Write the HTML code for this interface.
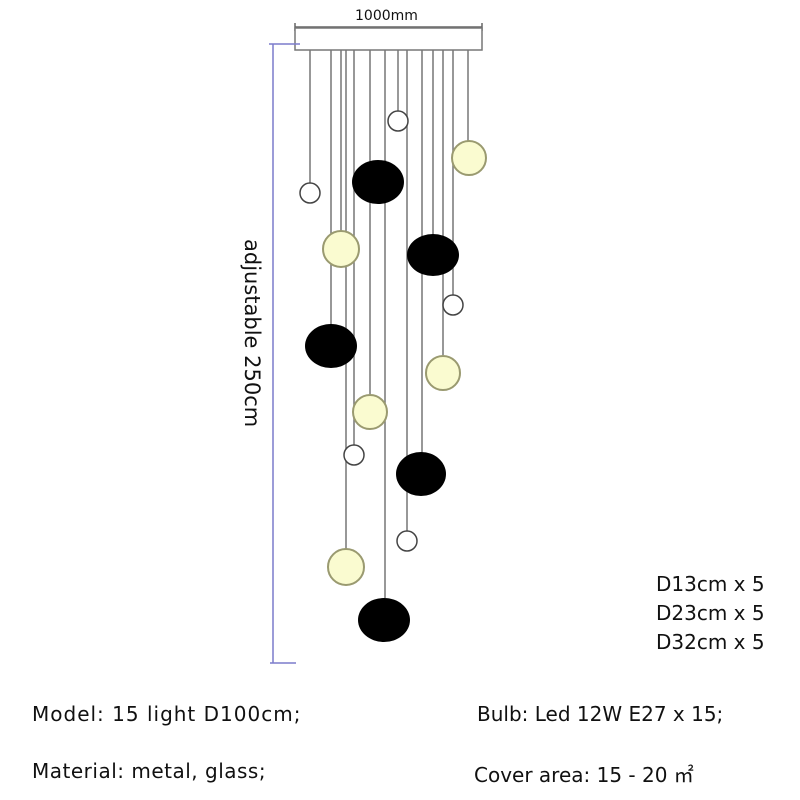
<!DOCTYPE html>
<html><head><style>
body{margin:0;width:800px;height:800px;background:#fff;position:relative;font-family:"DejaVu Sans","Liberation Sans",sans-serif;overflow:hidden}
.t{position:absolute;font-size:20px;color:#111;white-space:nowrap}
</style></head><body>
<svg width="800" height="800" style="position:absolute;left:0;top:0">
<g stroke="#666" stroke-width="1.5">
<line x1="295" y1="27" x2="482" y2="27"/>
<line x1="295" y1="23" x2="295" y2="31"/><line x1="482" y1="23" x2="482" y2="31"/>
</g>
<rect x="295" y="28" width="187" height="22" fill="#fff" stroke="#777" stroke-width="1.5"/>
<g stroke="#7c7ccc" stroke-width="1.5">
<line x1="273" y1="44" x2="273" y2="663"/>
<line x1="269" y1="44" x2="300" y2="44"/>
<line x1="270" y1="663" x2="296" y2="663"/>
</g>
<g stroke="#777" stroke-width="1.5">
<line x1="310" y1="50" x2="310" y2="183"/>
<line x1="331" y1="50" x2="331" y2="326"/>
<line x1="341" y1="50" x2="341" y2="231"/>
<line x1="346" y1="50" x2="346" y2="549"/>
<line x1="354" y1="50" x2="354" y2="445"/>
<line x1="370" y1="50" x2="370" y2="394"/>
<line x1="385" y1="50" x2="385" y2="598"/>
<line x1="398" y1="50" x2="398" y2="111"/>
<line x1="407" y1="50" x2="407" y2="531"/>
<line x1="422" y1="50" x2="422" y2="454"/>
<line x1="433" y1="50" x2="433" y2="235"/>
<line x1="443" y1="50" x2="443" y2="355"/>
<line x1="453" y1="50" x2="453" y2="295"/>
<line x1="468" y1="50" x2="468" y2="141"/>
</g>
<g fill="#fff" stroke="#444" stroke-width="1.5">
<circle cx="398" cy="121" r="10"/><circle cx="310" cy="193" r="10"/><circle cx="453" cy="305" r="10"/>
<circle cx="354" cy="455" r="10"/><circle cx="407" cy="541" r="10"/>
</g>
<g fill="#fafbd0" stroke="#9a9a70" stroke-width="2">
<circle cx="469" cy="158" r="17"/><circle cx="341" cy="249" r="18"/><circle cx="443" cy="373" r="17"/>
<circle cx="370" cy="412" r="17"/><circle cx="346" cy="567" r="18"/>
</g>
<g fill="#000">
<ellipse cx="378" cy="182" rx="26" ry="22"/><ellipse cx="433" cy="255" rx="26" ry="21"/>
<ellipse cx="331" cy="346" rx="26" ry="22"/><ellipse cx="421" cy="474" rx="25" ry="22"/>
<ellipse cx="384" cy="620" rx="26" ry="22"/>
</g>
</svg>
<div class="t" style="left:355px;top:8px;font-size:14px">1000mm</div>
<div class="t" style="left:264px;top:239px;transform-origin:0 0;transform:rotate(90deg);font-size:21px;line-height:24px">adjustable 250cm</div>
<div class="t" style="left:656px;top:572px">D13cm x 5</div>
<div class="t" style="left:656px;top:601px">D23cm x 5</div>
<div class="t" style="left:656px;top:630px">D32cm x 5</div>
<div class="t" style="left:32px;top:702px;letter-spacing:1px">Model: 15 light D100cm;</div>
<div class="t" style="left:477px;top:702px">Bulb: Led 12W E27 x 15;</div>
<div class="t" style="left:32px;top:759px;letter-spacing:0.5px">Material: metal, glass;</div>
<div class="t" style="left:474px;top:759px">Cover area: 15 - 20 ㎡</div>
</body></html>
